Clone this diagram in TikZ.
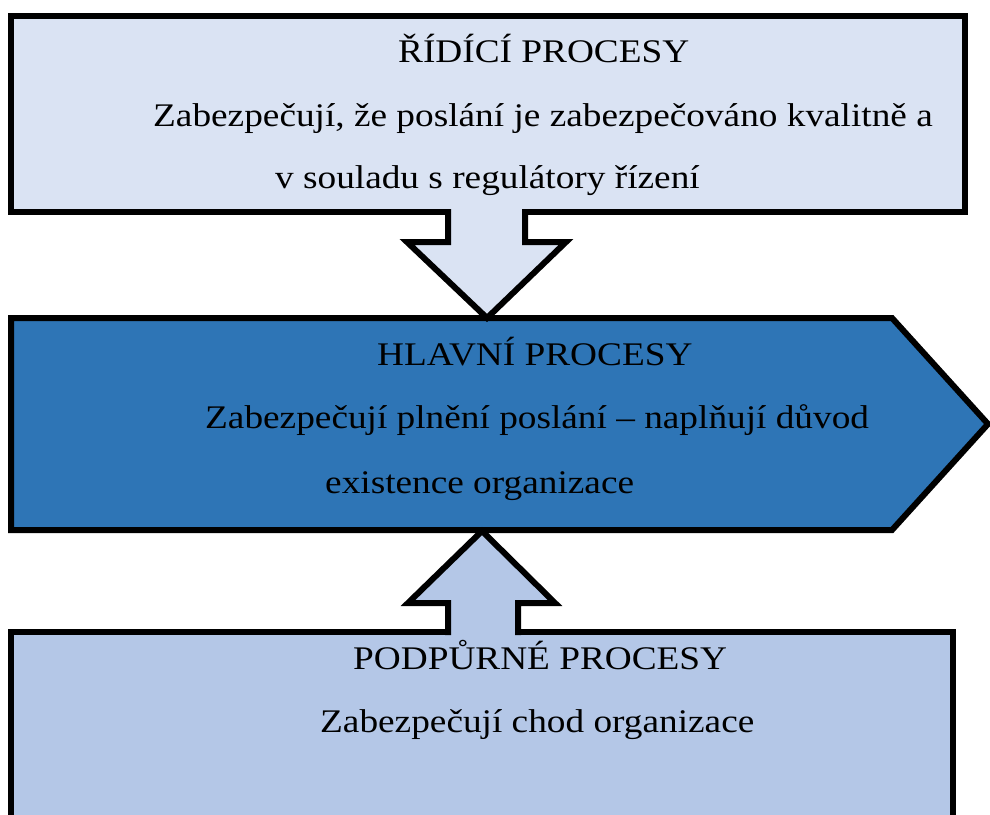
\documentclass[tikz,border=0pt]{standalone}
\usepackage{fontspec}
\setmainfont{Liberation Serif}[FakeStretch=1.13]
\usepackage{xcolor}
\usepackage{tikz}

\definecolor{ridici}{HTML}{DAE3F3}
\definecolor{hlavni}{HTML}{2E75B6}
\definecolor{podpurne}{HTML}{B4C7E7}

\tikzset{
  blok/.style={line width=6pt, line join=miter},
  txt/.style={anchor=base west, inner sep=0pt, font=\fontsize{33}{40}\selectfont}
}

\begin{document}
\begin{tikzpicture}[x=1pt,y=-1pt]
\useasboundingbox (0,0) rectangle (990,814);
\clip (0,0) rectangle (990,814);

% horni box
\draw[blok, fill=ridici] (11,16) rectangle (965,212);
% prostredni sipka-box
\draw[blok, fill=hlavni] (11,318) -- (892,318) -- (988,424) -- (892,530) -- (11,530) -- cycle;
% spodni box
\draw[blok, fill=podpurne] (11,632) rectangle (953,830);

% sipka dolu
\fill[ridici] (448,208) -- (448,242) -- (407,242) -- (487,318) -- (566,242) -- (525,242) -- (525,208) -- cycle;
\draw[blok] (448,209) -- (448,242) -- (407,242) -- (487,318) -- (566,242) -- (525,242) -- (525,209);

% sipka nahoru
\fill[podpurne] (448,636) -- (448,603) -- (408,603) -- (482,531) -- (555,603) -- (518,603) -- (518,636) -- cycle;
\draw[blok] (448,635) -- (448,603) -- (408,603) -- (482,531) -- (555,603) -- (518,603) -- (518,635);

% texty
\node[txt] (r1) at (398,62) {ŘÍDÍCÍ PROCESY};
\node[txt] (r2) at (153,126) {Zabezpečují, že poslání je zabezpečováno kvalitně a};
\node[txt] (r3) at (275,188) {v souladu s regulátory řízení};

\node[txt] (h1) at (377,365) {HLAVNÍ PROCESY};
\node[txt] (h2) at (205,428) {Zabezpečují plnění poslání – naplňují důvod};
\node[txt] (h3) at (325,493) {existence organizace};

\node[txt] (p1) at (353,669) {PODPŮRNÉ PROCESY};
\node[txt] (p2) at (320,732) {Zabezpečují chod organizace};
\end{tikzpicture}
\end{document}
